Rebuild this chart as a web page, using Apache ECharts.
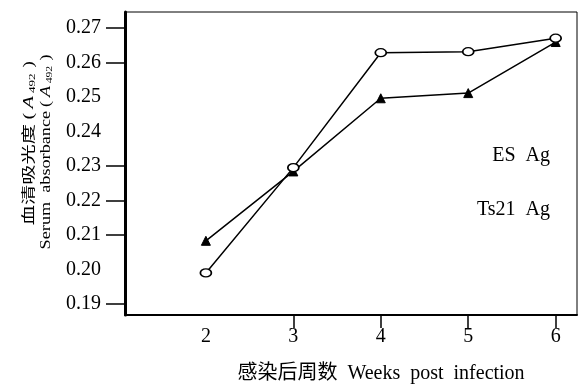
<!DOCTYPE html>
<html>
<head>
<meta charset="utf-8">
<script src="https://cdn.jsdelivr.net/npm/echarts@6/dist/echarts.min.js"></script>
<style>html,body{margin:0;padding:0;background:#fff}#c{width:578px;height:385px}</style>
</head>
<body>
<div id="c"></div>
<script>
const weeks = [2, 3, 4, 5, 6];
const esAg = [0.199, 0.2295, 0.2628, 0.2631, 0.267];
const ts21Ag = [0.2083, 0.2284, 0.2496, 0.2511, 0.2659];
const yTickLabels = [0.19, 0.20, 0.21, 0.22, 0.23, 0.24, 0.25, 0.26, 0.27];
const yTickMarks = [0.19, 0.21, 0.22, 0.23, 0.26, 0.27];
const xTickLabels = [2, 3, 4, 5, 6];
const xTickMarks = [3, 4, 5, 6];
const seriesNames = ['ES  Ag', 'Ts21  Ag'];

const serif = '"Liberation Serif", "Noto Sans CJK SC", serif';
const richName = {
  n: { fontFamily: serif, fontSize: 14 },
  p: { fontFamily: serif, fontSize: 14, padding: [0, 3, 0, 3] },
  i: { fontFamily: serif, fontSize: 14, fontStyle: 'italic', padding: [0, 1, 0, 0] },
  s: { fontFamily: serif, fontSize: 9, padding: [8, 1, 0, 1] }
};
const chart = echarts.init(document.getElementById('c'));
chart.setOption({
  animation: false,
  backgroundColor: '#fff',
  grid: { left: 125, right: 1, top: 12, bottom: 70, show: true, borderColor: '#000', borderWidth: 1 },
  xAxis: {
    type: 'value', min: 1.075, max: 6.244,
    axisLine: { lineStyle: { color: '#000', width: 2 } },
    splitLine: { show: false },
    axisTick: { customValues: xTickMarks, length: 13, lineStyle: { color: '#000', width: 1.5 } },
    axisLabel: { customValues: xTickLabels, color: '#000', fontFamily: serif, fontSize: 20, margin: 12 }
  },
  yAxis: {
    type: 'value', min: 0.1868, max: 0.2746,
    axisLine: { show: true, lineStyle: { color: '#000', width: 3 } },
    splitLine: { show: false },
    axisTick: { show: true, customValues: yTickMarks, length: 19, lineStyle: { color: '#000', width: 1.5 } },
    axisLabel: { customValues: yTickLabels, color: '#000', fontFamily: serif, fontSize: 20, margin: 24,
      formatter: v => v.toFixed(2) }
  },
  series: [
    {
      name: seriesNames[0], type: 'line',
      data: weeks.map((w, i) => [w, esAg[i]]),
      symbol: 'circle', symbolSize: [11, 8], showAllSymbol: true,
      lineStyle: { color: '#000', width: 1.5 },
      itemStyle: { color: '#fff', borderColor: '#000', borderWidth: 1.5 },
      z: 3
    },
    {
      name: seriesNames[1], type: 'line',
      data: weeks.map((w, i) => [w, ts21Ag[i]]),
      symbol: 'triangle', symbolSize: 9, showAllSymbol: true,
      lineStyle: { color: '#000', width: 1.5 },
      itemStyle: { color: '#000', borderColor: '#000', borderWidth: 1 },
      z: 2
    }
  ],
  graphic: [
    { type: 'text', x: 550, y: 156, style: { text: seriesNames[0], font: '20px ' + serif, fill: '#000', textAlign: 'right', textVerticalAlign: 'middle' } },
    { type: 'text', x: 550, y: 210, style: { text: seriesNames[1], font: '20px ' + serif, fill: '#000', textAlign: 'right', textVerticalAlign: 'middle' } },
    { type: 'text', x: 381, y: 374, style: { text: '感染后周数  Weeks  post  infection', font: '20px ' + serif, fill: '#000', textAlign: 'center', textVerticalAlign: 'middle' } },
    { type: 'text', x: 29, y: 141, rotation: Math.PI / 2, scaleX: 1.45,
      style: { text: '{n|血清吸光度}{p|(}{i|A}{s|492}{p|)}', fill: '#000', textAlign: 'center', textVerticalAlign: 'middle', rich: richName } },
    { type: 'text', x: 46, y: 150, rotation: Math.PI / 2, scaleX: 1.3,
      style: { text: '{n|Serum  absorbance}{p|(}{i|A}{s|492}{p|)}', fill: '#000', textAlign: 'center', textVerticalAlign: 'middle', rich: richName } }
  ]
});
</script>
</body>
</html>
